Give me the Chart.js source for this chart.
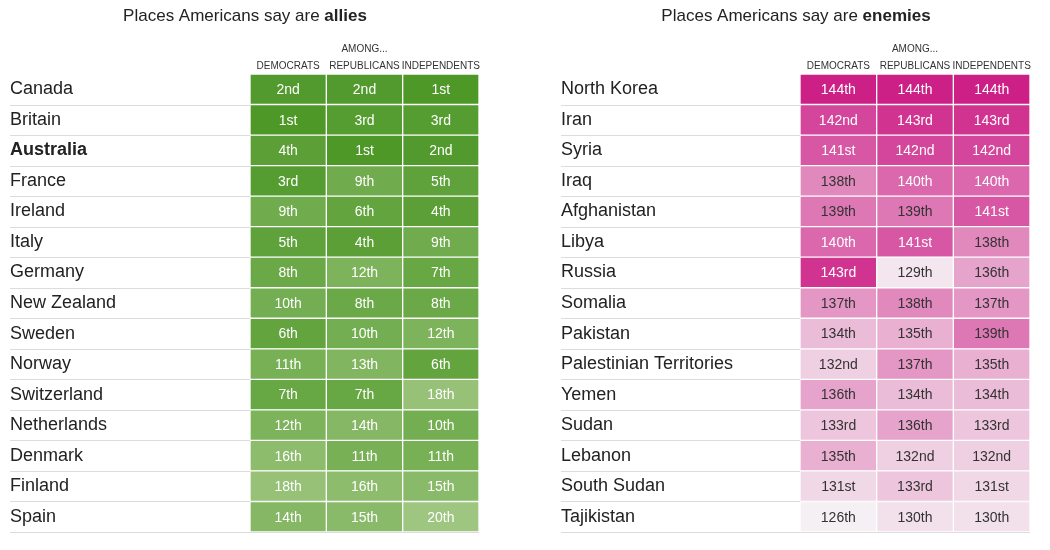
<!DOCTYPE html>
<html>
<head>
<meta charset="utf-8">
<script src="https://cdn.jsdelivr.net/npm/chart.js@4/dist/chart.umd.min.js"></script>
<style>
  body { margin: 0; background: #fff; }
  .wrap { position: absolute; top: 0; height: 550px; }
</style>
</head>
<body>
<div class="wrap" style="left:0;width:525px;"><canvas id="allies"></canvas></div>
<div class="wrap" style="left:551px;width:499px;"><canvas id="enemies"></canvas></div>
<script>
const columns = ['DEMOCRATS', 'REPUBLICANS', 'INDEPENDENTS'];

const allyCountries = ['Canada', 'Britain', 'Australia', 'France', 'Ireland', 'Italy', 'Germany', 'New Zealand',
    'Sweden', 'Norway', 'Switzerland', 'Netherlands', 'Denmark', 'Finland', 'Spain'];
const allyDem = [2, 1, 4, 3, 9, 5, 8, 10, 6, 11, 7, 12, 16, 18, 14];
const allyRep = [2, 3, 1, 9, 6, 4, 12, 8, 10, 13, 7, 14, 11, 16, 15];
const allyInd = [1, 3, 2, 5, 4, 9, 7, 8, 12, 6, 18, 10, 11, 15, 20];

const enemyCountries = ['North Korea', 'Iran', 'Syria', 'Iraq', 'Afghanistan', 'Libya', 'Russia', 'Somalia',
    'Pakistan', 'Palestinian Territories', 'Yemen', 'Sudan', 'Lebanon', 'South Sudan', 'Tajikistan'];
const enemyDem = [144, 142, 141, 138, 139, 140, 143, 137, 134, 132, 136, 133, 135, 131, 126];
const enemyRep = [144, 143, 142, 140, 139, 141, 129, 138, 135, 137, 134, 136, 132, 133, 130];
const enemyInd = [144, 143, 142, 140, 141, 138, 136, 137, 139, 135, 134, 133, 132, 131, 130];

const FONT = '"Liberation Sans", Arial, sans-serif';

function ordinal(n) {
    const t = n % 100;
    if (t >= 11 && t <= 13) return n + 'th';
    return n + ({ 1: 'st', 2: 'nd', 3: 'rd' }[n % 10] || 'th');
}

function mix(a, b, t) {
    const c = a.map((v, i) => Math.round(v + (b[i] - v) * t));
    return `rgb(${c[0]},${c[1]},${c[2]})`;
}

// 排名越前面顏色越深
function greenShade(rank) {
    const t = Math.min(1, (rank - 1) / 19);
    return mix([78, 152, 40], [158, 198, 128], t);
}
function pinkShade(rank) {
    const t = Math.min(1, Math.max(0, (rank - 126) / 18));
    return mix([245, 240, 243], [205, 32, 135], Math.pow(t, 1.7));
}
function pinkText(rank) {
    return rank >= 140 ? '#fff' : '#333';
}

function makeChart(id, opts) {
    const series = opts.series;
    const tablePlugin = {
        id: 'table-' + id,
        beforeDatasetsDraw(chart) {
            const { ctx, chartArea, scales } = chart;
            ctx.save();
            ctx.strokeStyle = '#dcdcdc';
            ctx.lineWidth = 1;
            const n = opts.labels.length;
            const step = (chartArea.bottom - chartArea.top) / n;
            for (let i = 1; i <= n; i++) {
                const y = Math.round(chartArea.top + step * i) + 0.5;
                ctx.beginPath();
                ctx.moveTo(10, y);
                ctx.lineTo(chartArea.right, y);
                ctx.stroke();
            }
            ctx.restore();
        },
        afterDatasetsDraw(chart) {
            const { ctx, scales } = chart;
            ctx.save();
            ctx.font = '14px ' + FONT;
            ctx.textAlign = 'center';
            ctx.textBaseline = 'middle';
            series.forEach((vals, c) => {
                const x = scales.x.getPixelForValue(c + 0.5);
                vals.forEach((v, r) => {
                    ctx.fillStyle = opts.textColor(v);
                    ctx.fillText(ordinal(v), x, scales.y.getPixelForValue(r) + 1);
                });
            });
            // 欄位標題
            ctx.fillStyle = '#333';
            ctx.font = '10px ' + FONT;
            ctx.fillText('AMONG...', scales.x.getPixelForValue(1.5), 49);
            columns.forEach((c, i) => ctx.fillText(c, scales.x.getPixelForValue(i + 0.5), 66));
            // 主標題：一般字 + 粗體
            const pre = 'Places Americans say are ';
            ctx.font = '17px ' + FONT;
            const w1 = ctx.measureText(pre).width;
            ctx.font = 'bold 17px ' + FONT;
            const w2 = ctx.measureText(opts.word).width;
            const x0 = 245 - (w1 + w2) / 2;
            ctx.textAlign = 'left';
            ctx.fillStyle = '#222';
            ctx.font = '17px ' + FONT;
            ctx.fillText(pre, x0, 16);
            ctx.font = 'bold 17px ' + FONT;
            ctx.fillText(opts.word, x0 + w1, 16);
            ctx.restore();
        }
    };

    new Chart(document.getElementById(id), {
        type: 'bar',
        data: {
            labels: opts.labels,
            datasets: series.map(vals => ({
                data: vals.map(() => 1),
                backgroundColor: vals.map(opts.shade),
                borderColor: '#fff',
                borderWidth: 1,
                borderSkipped: false,
                barPercentage: 1,
                categoryPercentage: 1
            }))
        },
        options: {
            indexAxis: 'y',
            responsive: true,
            maintainAspectRatio: false,
            animation: false,
            layout: { padding: { left: 10, top: 74, bottom: 18, right: opts.right } },
            plugins: { legend: { display: false }, tooltip: { enabled: false } },
            scales: {
                x: { stacked: true, min: 0, max: 3, display: false },
                y: {
                    stacked: true,
                    border: { display: false },
                    grid: { display: false },
                    afterFit: s => { s.width = opts.axisWidth; },
                    ticks: {
                        crossAlign: 'far',
                        color: '#222',
                        font: c => ({ family: FONT, size: 18, weight: opts.bold === c.index ? 'bold' : 'normal' })
                    }
                }
            }
        },
        plugins: [tablePlugin]
    });
}

makeChart('allies', {
    labels: allyCountries,
    series: [allyDem, allyRep, allyInd],
    shade: greenShade,
    textColor: () => '#fff',
    word: 'allies',
    bold: 2,
    axisWidth: 240,
    right: 46
});

makeChart('enemies', {
    labels: enemyCountries,
    series: [enemyDem, enemyRep, enemyInd],
    shade: pinkShade,
    textColor: pinkText,
    word: 'enemies',
    bold: -1,
    axisWidth: 239,
    right: 20
});
</script>
</body>
</html>
